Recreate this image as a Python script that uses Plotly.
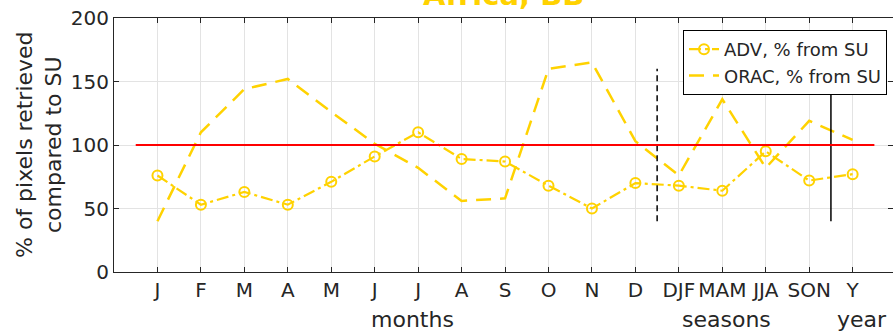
import plotly.graph_objects as go

# Categories along the x axis: 12 months, 4 seasons, whole year
months = ['J', 'F', 'M', 'A', 'M', 'J', 'J', 'A', 'S', 'O', 'N', 'D']
seasons = ['DJF', 'MAM', 'JJA', 'SON']
year = ['Y']
tick_labels = months + seasons + year
positions = list(range(1, len(tick_labels) + 1))

# Percentage of pixels retrieved relative to SU
adv_pct = [76, 53, 63, 53, 71, 91, 110, 89, 87, 68, 50, 70, 68, 64, 95, 72, 77]
orac_pct = [40, 110, 144, 152, 126, 101, 82, 56, 58, 160, 165, 103, 76, 136, 82, 119, 104]

# Reference level and separators between groups
reference_level = 100
reference_span = [0.5, 17.5]
separator_months = 12.5
separator_seasons = 16.5
separator_span = [40, 160]

GOLD = '#FFD200'
INK = '#262626'
FONT = 'DejaVu Sans'

L, R, T, B = 114, 0, 18, 60
W, H = 893, 332
PW = W - L - R
PH = H - T - B


def px_x(p):
    return (p - L) / PW


def px_y(p):
    return (H - B - p) / PH


fig = go.Figure()

fig.add_trace(go.Scatter(
    x=positions, y=adv_pct, name='ADV, % from SU', mode='lines+markers',
    line=dict(color=GOLD, width=2.2, dash='12px,4px,3px,4px'),
    marker=dict(symbol='circle-open', size=10, color=GOLD, line=dict(width=2, color=GOLD)),
))
fig.add_trace(go.Scatter(
    x=positions, y=orac_pct, name='ORAC, % from SU', mode='lines',
    line=dict(color=GOLD, width=2.5, dash='15px,9px'),
))
fig.add_trace(go.Scatter(
    x=[separator_months, separator_months], y=separator_span, mode='lines',
    line=dict(color='black', width=1.5, dash='6px,4px'), showlegend=False, hoverinfo='skip',
))
fig.add_trace(go.Scatter(
    x=[separator_seasons, separator_seasons], y=separator_span, mode='lines',
    line=dict(color='black', width=1.5), showlegend=False, hoverinfo='skip',
))
fig.add_trace(go.Scatter(
    x=reference_span, y=[reference_level, reference_level], mode='lines',
    line=dict(color='#FF0000', width=2), showlegend=False, hoverinfo='skip',
))

fig.update_xaxes(
    range=[0, PW / 43.45], tickmode='array', tickvals=positions, ticktext=tick_labels,
    showgrid=True, gridcolor='#e3e3e3', gridwidth=1,
    ticks='inside', ticklen=5, tickcolor=INK, tickwidth=1,
    showline=True, linecolor=INK, linewidth=1, mirror='ticks',
    tickfont=dict(family=FONT, size=20, color=INK), zeroline=False,
)
fig.update_yaxes(
    range=[0, 200], tickvals=[0, 50, 100, 150, 200],
    showgrid=True, gridcolor='#e3e3e3', gridwidth=1,
    ticks='inside', ticklen=5, tickcolor=INK, tickwidth=1,
    showline=True, linecolor=INK, linewidth=1, mirror='ticks',
    tickfont=dict(family=FONT, size=20, color=INK), zeroline=False,
)

label_font = dict(family=FONT, size=22, color=INK)
label_y = px_y(319)
annotations = [
    dict(text='<b>Africa, BB</b>', x=0.5, y=1 + 4 / PH, xref='paper', yref='paper',
         xanchor='center', yanchor='bottom', showarrow=False,
         font=dict(family=FONT, size=29, color=GOLD)),
    dict(text='% of pixels retrieved<br>compared to SU', textangle=-90,
         x=px_x(39), y=0.5, xref='paper', yref='paper', xanchor='center', yanchor='middle',
         showarrow=False, font=label_font),
    dict(text='months', x=6.87, y=label_y, xref='x', yref='paper',
         xanchor='center', yanchor='middle', showarrow=False, font=label_font),
    dict(text='seasons', x=14.1, y=label_y, xref='x', yref='paper',
         xanchor='center', yanchor='middle', showarrow=False, font=label_font),
    dict(text='year', x=17.22, y=label_y, xref='x', yref='paper',
         xanchor='center', yanchor='middle', showarrow=False, font=label_font),
]

fig.update_layout(
    width=W, height=H, margin=dict(l=L, r=R, t=T, b=B, autoexpand=False),
    paper_bgcolor='white', plot_bgcolor='white',
    font=dict(family=FONT, color=INK),
    annotations=annotations,
    legend=dict(x=px_x(683), y=px_y(30), xanchor='left', yanchor='top',
                bordercolor='black', borderwidth=1, bgcolor='white',
                font=dict(family=FONT, size=18, color=INK), itemwidth=30,
                tracegroupgap=0),
    showlegend=True,
)

fig.write_html('out.html')
